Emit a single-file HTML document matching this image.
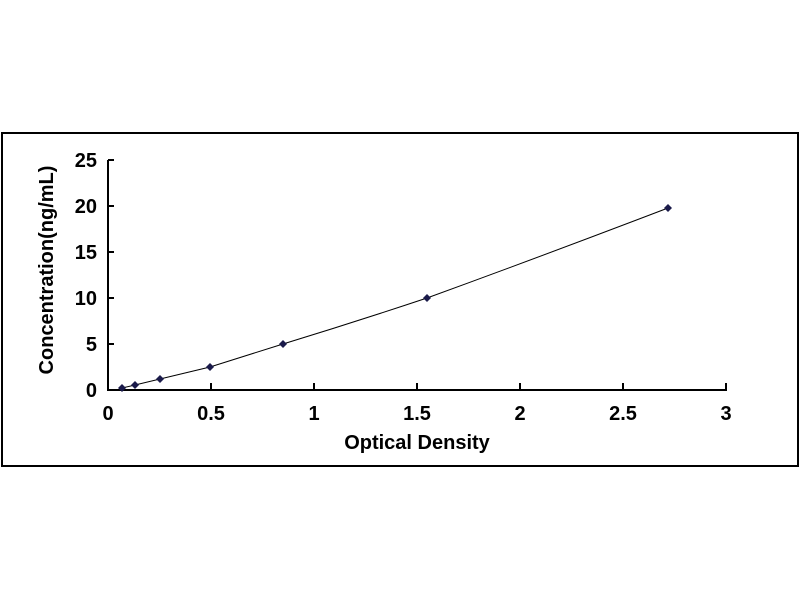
<!DOCTYPE html>
<html><head><style>
html,body{margin:0;padding:0;background:#fff;}
svg{display:block;}
text{font-family:"Liberation Sans",Arial,sans-serif;font-weight:bold;fill:#000;}
</style></head><body>
<svg width="800" height="600" viewBox="0 0 800 600">
<rect x="2" y="133" width="796" height="333" fill="#fff" stroke="#000" stroke-width="2"/>
<g stroke="#000" stroke-width="2" fill="none">
<line x1="108" y1="160" x2="108" y2="390"/>
<line x1="107" y1="390" x2="727" y2="390"/>
<line x1="108" y1="160" x2="114" y2="160"/>
<line x1="108" y1="206" x2="114" y2="206"/>
<line x1="108" y1="252" x2="114" y2="252"/>
<line x1="108" y1="298" x2="114" y2="298"/>
<line x1="108" y1="344" x2="114" y2="344"/>
<line x1="211" y1="390" x2="211" y2="383"/>
<line x1="314" y1="390" x2="314" y2="383"/>
<line x1="417" y1="390" x2="417" y2="383"/>
<line x1="520" y1="390" x2="520" y2="383"/>
<line x1="623" y1="390" x2="623" y2="383"/>
<line x1="726" y1="390" x2="726" y2="383"/>
</g>
<g font-size="20" text-anchor="end">
<text x="97" y="167">25</text>
<text x="97" y="213">20</text>
<text x="97" y="259">15</text>
<text x="97" y="305">10</text>
<text x="97" y="351">5</text>
<text x="97" y="397">0</text>
</g>
<g font-size="20" text-anchor="middle">
<text x="108" y="420">0</text>
<text x="211" y="420">0.5</text>
<text x="314" y="420">1</text>
<text x="417" y="420">1.5</text>
<text x="520" y="420">2</text>
<text x="623" y="420">2.5</text>
<text x="726" y="420">3</text>
</g>
<text x="417" y="449" font-size="20" text-anchor="middle">Optical Density</text>
<text transform="translate(53,270) rotate(-90)" font-size="20" text-anchor="middle">Concentration(ng/mL)</text>
<path d="M122,388 L135,385 L160,379 Q185,373 210,367 Q245,356 283,344 Q355,322 427,298 Q545,255 668,208" fill="none" stroke="#000" stroke-width="1"/>
<g fill="#1a1a4a">
<path d="M122,384 l4,4 l-4,4 l-4,-4z"/>
<path d="M135,381 l4,4 l-4,4 l-4,-4z"/>
<path d="M160,375 l4,4 l-4,4 l-4,-4z"/>
<path d="M210,363 l4,4 l-4,4 l-4,-4z"/>
<path d="M283,340 l4,4 l-4,4 l-4,-4z"/>
<path d="M427,294 l4,4 l-4,4 l-4,-4z"/>
<path d="M668,204 l4,4 l-4,4 l-4,-4z"/>
</g>
</svg>
</body></html>
